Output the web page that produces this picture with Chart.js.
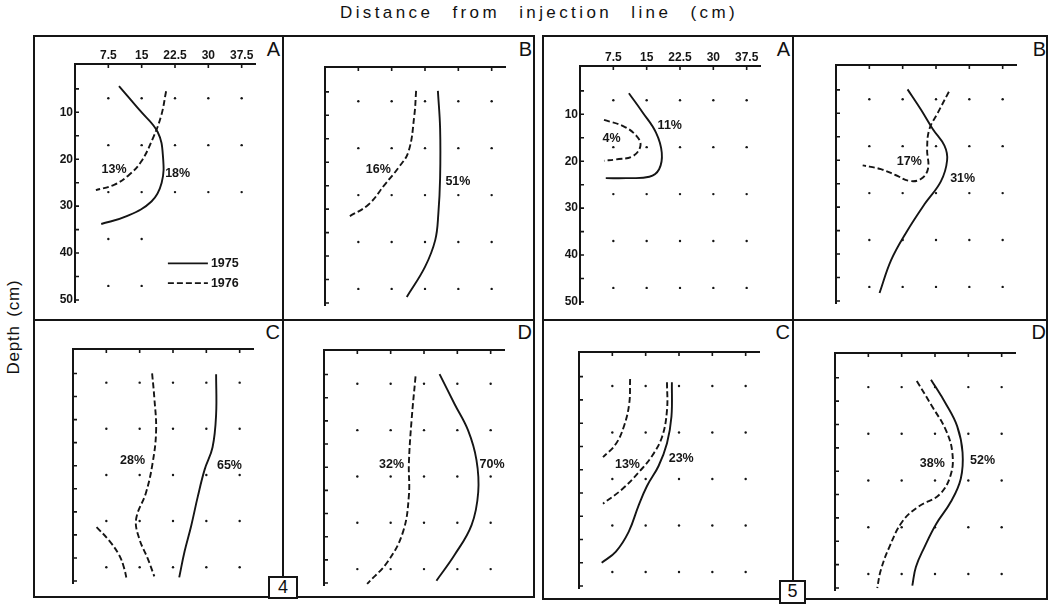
<!DOCTYPE html>
<html>
<head>
<meta charset="utf-8">
<script src="https://cdn.jsdelivr.net/npm/chart.js@4.4.1/dist/chart.umd.min.js"></script>
<style>
body{margin:0;background:#fff;width:1056px;height:605px;position:relative;overflow:hidden;font-family:"Liberation Sans",Arial,sans-serif;color:#111}
.box{position:absolute;border:2px solid #151515;box-sizing:border-box;background:#fff}
.ln{position:absolute;background:#151515}
canvas{position:absolute}
.lt{position:absolute;width:30px;text-align:right;font-size:20px;line-height:20px}
.num{position:absolute;border:2px solid #151515;box-sizing:border-box;background:#fff;text-align:center;font-size:18px;line-height:19px}
</style>
</head>
<body>
<div id="title" style="position:absolute;left:189px;width:700px;top:3px;text-align:center;font-size:17px;letter-spacing:3.4px;word-spacing:11px">Distance from injection line (cm)</div>
<div style="position:absolute;left:14px;top:327px;transform:translate(-50%,-50%) rotate(-90deg);white-space:nowrap;font-size:17px;letter-spacing:0.8px;word-spacing:3px">Depth (cm)</div>

<div class="box" style="left:33px;top:35px;width:502px;height:563px"></div>
<div class="ln" style="left:282px;top:35px;width:2px;height:563px"></div>
<div class="ln" style="left:33px;top:319px;width:502px;height:2px"></div>
<div class="box" style="left:542px;top:35px;width:506px;height:565px"></div>
<div class="ln" style="left:792px;top:35px;width:2px;height:565px"></div>
<div class="ln" style="left:542px;top:319px;width:506px;height:2px"></div>

<div class="lt" style="left:250px;top:39px">A</div>
<div class="lt" style="left:502px;top:39px">B</div>
<div class="lt" style="left:760px;top:39px">A</div>
<div class="lt" style="left:1016px;top:39px">B</div>
<div class="lt" style="left:250px;top:322px">C</div>
<div class="lt" style="left:502px;top:322px">D</div>
<div class="lt" style="left:760px;top:322px">C</div>
<div class="lt" style="left:1016px;top:322px">D</div>

<div class="num" style="left:268px;top:576px;width:30px;height:23px">4</div>
<div class="num" style="left:779px;top:580px;width:27px;height:24px">5</div>

<script>
// axis ticks
var xTicks = [7.5, 15, 22.5, 30, 37.5];
var yTicks = [5, 10, 15, 20, 25, 30, 35, 40, 45, 50];
// sampling grid (dots)
var dotX = [7.5, 15, 22.5, 30, 37.5];
var dotY = [7, 17, 27, 37, 47];

// contour lines: [distance, depth]
var fig4A_1975 = [[9.9,4.4],[14.5,9.5],[18.6,14.2],[19.8,19.5],[19.5,25],[17.2,29],[11.5,32.2],[5.9,33.8]];
var fig4A_1976 = [[20.5,5.5],[19.4,10.7],[17.5,15.6],[14.9,20.5],[12.2,23.3],[8.9,25.4],[4.7,26.6]];
var fig4A_labels = [['13%',8.8,22.3],['18%',23.1,23]];

var fig4B_1975 = [[25.4,4.8],[25.9,12.8],[25.9,23.3],[25.5,31],[24.8,36.6],[22.5,42.3],[18.4,48.7]];
var fig4B_1976 = [[20.5,4.8],[20.1,10],[18.8,17.7],[16.5,21.2],[13.5,24.7],[9.8,29],[5.2,31.7]];
var fig4B_labels = [['16%',12,21.6],['51%',29.9,24.2]];

var fig4C_1975 = [[32.2,5.2],[32.2,13.9],[31.4,21],[29.6,25.9],[28.1,31.6],[26.6,38],[25.1,43.6],[23.9,49.2]];
var fig4C_1976a = [[17.8,5],[18.3,10.3],[18.7,17.4],[17.9,24.5],[16.4,30.9],[14.2,36.6],[14.9,40.8],[16.8,45.1],[18.3,49]];
var fig4C_1976b = [[5.3,38.3],[8.1,41.2],[10.4,44.4],[11.5,47.2],[12.1,49.7]];
var fig4C_labels = [['28%',13.4,23.8],['65%',35.2,24.9]];

var fig4D_1975 = [[26,4.9],[29.4,11.4],[32.4,17],[34.3,23.4],[34.7,30.4],[33.2,37.5],[29.4,43.9],[25.3,49.5]];
var fig4D_1976 = [[20.6,5.4],[19.7,14.9],[19.1,24.1],[19.1,31.1],[17.8,38.9],[14.4,45.3],[9.7,50.2]];
var fig4D_labels = [['32%',15.2,24.4],['70%',37.8,24.4]];

var fig5A_1975 = [[11,5.5],[14.1,9.6],[17.1,13.9],[18.4,18.2],[17.8,21.7],[15.6,23.3],[10.4,23.6],[5.8,23.6]];
var fig5A_1976 = [[5.4,11.2],[9.7,12.5],[12.7,14.6],[13.6,16.7],[11.9,18.9],[8.2,19.6],[5.4,19.9]];
var fig5A_labels = [['4%',7.1,15.2],['11%',20.2,12.3]];

var fig5B_1975 = [[16.1,4.9],[19.1,9.2],[21.8,13.4],[24.4,16.9],[25,20],[23.6,24.5],[19.9,29.4],[15.8,35.4],[12.4,41.3],[9.8,48.3]];
var fig5B_1976 = [[25.4,5.4],[22.9,9.9],[21,13.4],[20.5,17.6],[20.7,21.8],[19.1,24],[16.5,24.4],[13.5,23.2],[10.1,21.9],[6,21.1]];
var fig5B_labels = [['17%',16.5,20.2],['31%',28.5,23.8]];

var fig5C_1975 = [[20.9,6.2],[20.8,13.6],[19.8,19.3],[17.9,24.2],[15.3,28.5],[13.4,32.7],[11.2,38.3],[8.3,42.6],[5.1,45]];
var fig5C_1976a = [[11.5,5.5],[11.3,10.8],[10.1,15.7],[8.2,19.6],[5.4,22.3]];
var fig5C_1976b = [[19.8,6.2],[19.8,12.2],[18.7,17.9],[16.4,22.1],[13.4,25.6],[9.7,29.2],[5.4,32.3]];
var fig5C_labels = [['13%',10.9,23.9],['23%',23,22.6]];

var fig5D_1975 = [[21.6,5.4],[24.9,10.5],[27.5,15.4],[28.7,21],[28.3,26.6],[26.1,31.5],[22.7,36.4],[20.1,41.3],[18.2,45.5],[17.4,49.5]];
var fig5D_1976 = [[18.4,5.7],[21.9,11.2],[24.9,16.1],[26.4,21],[26,25.9],[23.4,30.1],[18.9,32.5],[15.2,35.7],[12.2,41.3],[10.3,46.2],[9.5,50]];
var fig5D_labels = [['38%',21.9,23.4],['52%',33.2,22.7]];

// legend of panel 4A
var legendYears = ['1975', '1976'];
var legendDepth = [42.2, 46.4];
var legendFrom = 20.9, legendTo = 29.9;

var INK = '#151515';
var FONT = '"Liberation Sans", Arial, sans-serif';
var DASH = [6, 3];

var panels = [
    {left: 75,  top: 64,    h: 242, solid: fig4A_1975, dashed: [fig4A_1976], labels: fig4A_labels, axisText: true, legend: true},
    {left: 325, top: 67,    h: 242, solid: fig4B_1975, dashed: [fig4B_1976], labels: fig4B_labels},
    {left: 73,  top: 349,   h: 238, solid: fig4C_1975, dashed: [fig4C_1976a, fig4C_1976b], labels: fig4C_labels},
    {left: 324, top: 350,   h: 239, solid: fig4D_1975, dashed: [fig4D_1976], labels: fig4D_labels},
    {left: 580, top: 66,    h: 242, solid: fig5A_1975, dashed: [fig5A_1976], labels: fig5A_labels, axisText: true},
    {left: 836, top: 65,    h: 242, solid: fig5B_1975, dashed: [fig5B_1976], labels: fig5B_labels},
    {left: 579, top: 352,   h: 240, solid: fig5C_1975, dashed: [fig5C_1976a, fig5C_1976b], labels: fig5C_labels},
    {left: 835, top: 353,   h: 241, solid: fig5D_1975, dashed: [fig5D_1976], labels: fig5D_labels}
];

function toPts(arr) {
    return arr.map(function (p) { return {x: p[0], y: p[1]}; });
}

// inward tick marks + text on the plot
var panelDeco = {
    id: 'panelDeco',
    afterDatasetsDraw: function (chart) {
        var ctx = chart.ctx, xs = chart.scales.x, ys = chart.scales.y;
        var area = chart.chartArea;
        var cfg = chart.options.plugins.panelDeco;
        ctx.save();
        ctx.strokeStyle = INK;
        ctx.lineWidth = 1.6;
        ctx.beginPath();
        xs.ticks.forEach(function (t) {
            var px = xs.getPixelForValue(t.value);
            ctx.moveTo(px, area.top);
            ctx.lineTo(px, area.top + 4);
        });
        ys.ticks.forEach(function (t) {
            var py = ys.getPixelForValue(t.value);
            ctx.moveTo(area.left, py);
            ctx.lineTo(area.left + 4, py);
        });
        ctx.stroke();

        ctx.fillStyle = INK;
        ctx.font = 'bold 12.5px ' + FONT;
        ctx.textAlign = 'center';
        ctx.textBaseline = 'middle';
        cfg.labels.forEach(function (l) {
            ctx.fillText(l[0], xs.getPixelForValue(l[1]), ys.getPixelForValue(l[2]));
        });

        if (cfg.legend) {
            ctx.textAlign = 'left';
            legendYears.forEach(function (yr, i) {
                var py = ys.getPixelForValue(legendDepth[i]);
                ctx.beginPath();
                ctx.lineWidth = 1.8;
                ctx.setLineDash(i === 0 ? [] : DASH);
                ctx.moveTo(xs.getPixelForValue(legendFrom), py);
                ctx.lineTo(xs.getPixelForValue(legendTo), py);
                ctx.stroke();
                ctx.setLineDash([]);
                ctx.fillText(yr, xs.getPixelForValue(legendTo) + 3, py);
            });
        }
        ctx.restore();
    }
};

function makePanel(p) {
    var canvas = document.createElement('canvas');
    canvas.width = 34 + 180 + 6;
    canvas.height = 24 + p.h + 6;
    canvas.style.left = (p.left - 34) + 'px';
    canvas.style.top = (p.top - 24) + 'px';
    document.body.appendChild(canvas);

    var dots = [];
    dotY.forEach(function (y) {
        dotX.forEach(function (x) {
            // the legend of panel 4A covers the lower right dots
            if (p.legend && y > 30 && x > 20) return;
            dots.push({x: x, y: y});
        });
    });

    var datasets = [{
        data: dots,
        showLine: false,
        pointRadius: 1.2,
        pointBackgroundColor: INK,
        pointBorderWidth: 0
    }, {
        data: toPts(p.solid),
        showLine: true,
        borderColor: INK,
        borderWidth: 1.9,
        tension: 0.4,
        pointRadius: 0
    }];
    p.dashed.forEach(function (d) {
        datasets.push({
            data: toPts(d),
            showLine: true,
            borderColor: INK,
            borderWidth: 1.9,
            borderDash: DASH,
            tension: 0.4,
            pointRadius: 0
        });
    });

    new Chart(canvas, {
        type: 'scatter',
        data: {datasets: datasets},
        options: {
            responsive: false,
            animation: false,
            layout: {padding: {left: 0, top: 0, right: 6, bottom: 6}},
            plugins: {
                legend: {display: false},
                tooltip: {enabled: false},
                panelDeco: {labels: p.labels, legend: !!p.legend}
            },
            scales: {
                x: {
                    type: 'linear',
                    position: 'top',
                    min: 0,
                    max: 40.5,
                    afterBuildTicks: function (s) { s.ticks = xTicks.map(function (v) { return {value: v}; }); },
                    afterFit: function (s) { s.height = 24; },
                    grid: {display: false, drawTicks: false},
                    border: {display: true, color: INK, width: 2},
                    ticks: {
                        padding: 1,
                        color: INK,
                        font: {family: FONT, size: 12, weight: 'bold'},
                        maxRotation: 0,
                        autoSkip: false,
                        callback: function (v) { return p.axisText ? String(v) : ''; }
                    }
                },
                y: {
                    type: 'linear',
                    reverse: true,
                    min: -0.3,
                    max: 50.6,
                    afterBuildTicks: function (s) { s.ticks = yTicks.map(function (v) { return {value: v}; }); },
                    afterFit: function (s) { s.width = 34; },
                    grid: {display: false, drawTicks: false},
                    border: {display: true, color: INK, width: 2},
                    ticks: {
                        padding: 2,
                        color: INK,
                        font: {family: FONT, size: 12, weight: 'bold'},
                        autoSkip: false,
                        callback: function (v) { return p.axisText && v % 10 === 0 ? String(v) : ''; }
                    }
                }
            }
        },
        plugins: [panelDeco]
    });
}

panels.forEach(makePanel);
</script>
</body>
</html>
